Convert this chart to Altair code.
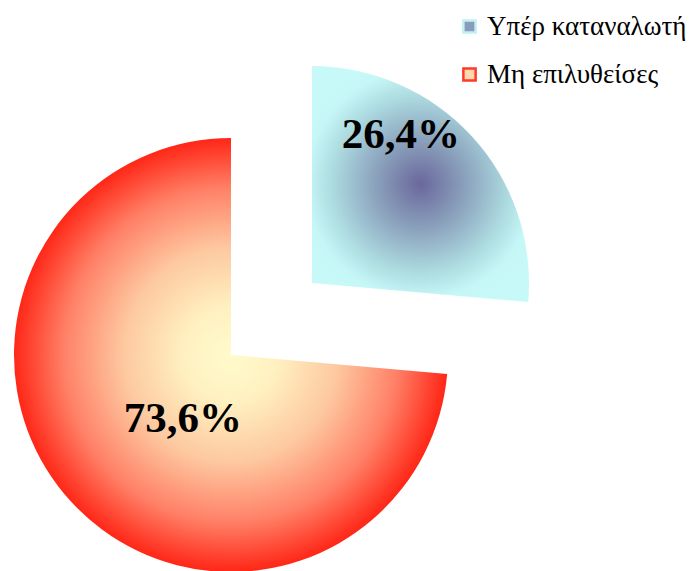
import altair as alt
import pandas as pd
import math

categories = ["Υπέρ καταναλωτή", "Μη επιλυθείσες"]
values = [26.4, 73.6]
labels = ["26,4%", "73,6%"]
order = [0, 1]

df = pd.DataFrame({"cat": categories, "value": values, "label": labels, "order": order})

blue_grad = alt.RadialGradient(
    gradient="radial", x1=0.5, y1=0.5, r1=0, x2=0.5, y2=0.5, r2=0.55,
    stops=[
        alt.GradientStop(offset=0, color="#6a679b"),
        alt.GradientStop(offset=0.35, color="#8ba2bd"),
        alt.GradientStop(offset=0.68, color="#addbe0"),
        alt.GradientStop(offset=0.88, color="#c6f7f7"),
        alt.GradientStop(offset=1, color="#c8f9f9"),
    ],
)
red_grad = alt.RadialGradient(
    gradient="radial", x1=0.5, y1=0.5, r1=0, x2=0.5, y2=0.5, r2=0.55,
    stops=[
        alt.GradientStop(offset=0, color="#fffbcc"),
        alt.GradientStop(offset=0.2, color="#fff0c0"),
        alt.GradientStop(offset=0.45, color="#fdc8a0"),
        alt.GradientStop(offset=0.7, color="#ff8066"),
        alt.GradientStop(offset=0.9, color="#ff2a1a"),
        alt.GradientStop(offset=1, color="#ff1a10"),
    ],
)

theta_scale = alt.Scale(domain=[0, 100], range=[0, 2 * math.pi])

base = (
    alt.Chart(df)
    .transform_window(v1="sum(value)", sort=[alt.SortField("order")], frame=[None, 0])
    .transform_calculate(v0="datum.v1 - datum.value")
    .transform_calculate(mid="(datum.v0 + datum.v1) / 2")
)

cx, cy, R = 231, 355, 217
ex, ey = 81, -72

blue_arc = base.transform_filter(alt.datum.cat == categories[0]).mark_arc(
    fill=blue_grad, radius=R, xOffset=ex, yOffset=ey
).encode(
    theta=alt.Theta("v0:Q", scale=theta_scale),
    theta2="v1:Q",
    x=alt.value(cx), y=alt.value(cy),
)

red_arc = base.transform_filter(alt.datum.cat == categories[1]).mark_arc(
    fill=red_grad, radius=R
).encode(
    theta=alt.Theta("v0:Q", scale=theta_scale),
    theta2="v1:Q",
    x=alt.value(cx), y=alt.value(cy),
)

txt_common = dict(font="Liberation Serif", fontSize=43, fontWeight="bold",
                  color="black", align="center", baseline="middle")

blue_txt = base.transform_filter(alt.datum.cat == categories[0]).mark_text(
    radius=130, xOffset=ex, yOffset=ey, dx=-7, dy=-60, **txt_common
).encode(
    theta=alt.Theta("mid:Q", scale=theta_scale),
    text="label:N",
    x=alt.value(cx), y=alt.value(cy),
)

red_txt = base.transform_filter(alt.datum.cat == categories[1]).mark_text(
    radius=80, dx=11, dy=10, **txt_common
).encode(
    theta=alt.Theta("mid:Q", scale=theta_scale),
    text="label:N",
    x=alt.value(cx), y=alt.value(cy),
)

legend_cfg = dict(
    title=None, orient="none", legendX=456, legendY=13,
    symbolType="square", symbolSize=150, symbolStrokeWidth=2.5, symbolOpacity=1,
    labelFont="Liberation Serif", labelFontSize=27, labelColor="black",
    labelOffset=4, rowPadding=20, labelLimit=400,
)

legend_layer = alt.Chart(df).mark_square(opacity=0, size=1).encode(
    fill=alt.Fill("cat:N", scale=alt.Scale(domain=categories, range=["#8a9cbc", "#ffd8ac"]),
                  legend=alt.Legend(**legend_cfg)),
    stroke=alt.Stroke("cat:N", scale=alt.Scale(domain=categories, range=["#c0f2f4", "#ff3a28"]),
                      legend=alt.Legend(**legend_cfg)),
    x=alt.value(0), y=alt.value(0),
)

chart = alt.layer(red_arc, blue_arc, red_txt, blue_txt, legend_layer).properties(
    width=697, height=571, autosize=alt.AutoSizeParams(type="none"), padding=0,
    background="white",
).configure_view(stroke=None)

chart.save("out.html", embed_options={"renderer": "svg", "actions": False})
